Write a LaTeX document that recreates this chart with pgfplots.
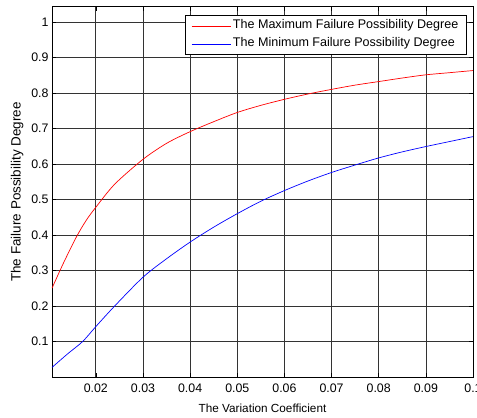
\documentclass[border=0pt]{standalone}
\usepackage{fontspec}
\setmainfont{Liberation Sans}
\usepackage{pgfplots}
\pgfplotsset{compat=1.18}

\begin{document}
\begin{tikzpicture}
\begin{axis}[
    at={(0,0)}, anchor=south west,
    scale only axis,
    width=421bp, height=370bp,
    xmin=0.0107, xmax=0.1,
    ymin=0, ymax=1.042,
    xtick={0.02,0.03,0.04,0.05,0.06,0.07,0.08,0.09,0.1},
    xticklabels={0.02,0.03,0.04,0.05,0.06,0.07,0.08,0.09,0.1},
    ytick={0.1,0.2,0.3,0.4,0.5,0.6,0.7,0.8,0.9,1},
    yticklabels={0.1,0.2,0.3,0.4,0.5,0.6,0.7,0.8,0.9,1},
    /pgf/number format/assume math mode=true,
    tick label style={font=\fontsize{12.4}{14}\selectfont},
    xticklabel style={yshift=-3bp},
    tick align=inside,
    major tick length=4bp,
    tick style={black, line width=0.6pt},
    axis line style={black, line width=1pt},
    grid=major,
    major grid style={black!80, line width=0.7pt},
    xlabel={The Variation Coefficient},
    ylabel={The Failure Possibility Degree},
    xlabel style={font=\fontsize{11.8}{13}\selectfont, at={(axis description cs:0.5,-0.084)}, anchor=center},
    ylabel style={font=\fontsize{13.5}{15}\selectfont, at={(axis description cs:-0.083,0.5)}, anchor=center},
    legend style={
        font=\fontsize{12.6}{14}\selectfont,
        draw=black, line width=0.8pt,
        at={(0.985,0.978)}, anchor=north east,
        cells={anchor=west},
        inner xsep=6bp, inner ysep=3.5bp, row sep=4bp,
        nodes={inner sep=2bp, text height=0.75em, text depth=0.25em}
    },
    legend image code/.code={\draw[#1] (0bp,0bp) -- (39bp,0bp);},
]
\addplot[red, line width=0.7pt, smooth] coordinates {
(0.0107,0.250) (0.0131,0.320) (0.0159,0.395) (0.018,0.442) (0.02,0.478)
(0.024,0.543) (0.03,0.613) (0.035,0.658) (0.04,0.691) (0.045,0.719)
(0.05,0.745) (0.055,0.765) (0.06,0.782) (0.065,0.797) (0.07,0.810)
(0.075,0.822) (0.08,0.832) (0.085,0.842) (0.09,0.851) (0.095,0.857)
(0.1,0.863)
};
\addlegendentry{The Maximum Failure Possibility Degree}
\addplot[blue, line width=0.7pt, smooth] coordinates {
(0.0107,0.027) (0.014,0.065) (0.0172,0.100) (0.02,0.142) (0.024,0.200)
(0.03,0.281) (0.035,0.333) (0.04,0.380) (0.045,0.422) (0.05,0.460)
(0.055,0.495) (0.06,0.525) (0.065,0.552) (0.07,0.576) (0.075,0.597)
(0.08,0.617) (0.085,0.634) (0.09,0.649) (0.095,0.663) (0.1,0.677)
};
\addlegendentry{The Minimum Failure Possibility Degree}
\end{axis}
\pgfresetboundingbox
\path[use as bounding box] (-52bp,-41bp) rectangle (425bp,377bp);
\end{tikzpicture}
\end{document}
